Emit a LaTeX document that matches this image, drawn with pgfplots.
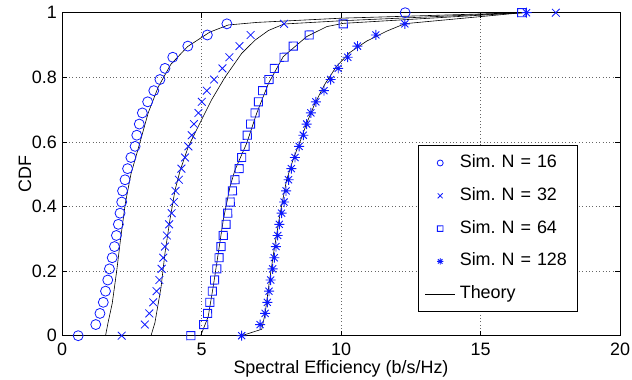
\documentclass[border=0pt]{standalone}
\usepackage{fontspec}
\setmainfont{Liberation Sans}
\usepackage{pgfplots}
\pgfplotsset{compat=1.18}
\usepackage{pgfplotstable}
\definecolor{mblue}{rgb}{0.05,0.1,1}
\pgfdeclareplotmark{mstar}{%
  \pgfpathmoveto{\pgfqpoint{0pt}{\pgfplotmarksize}}\pgfpathlineto{\pgfqpoint{0pt}{-\pgfplotmarksize}}%
  \pgfpathmoveto{\pgfqpoint{\pgfplotmarksize}{0pt}}\pgfpathlineto{\pgfqpoint{-\pgfplotmarksize}{0pt}}%
  \pgfpathmoveto{\pgfqpoint{0.707\pgfplotmarksize}{0.707\pgfplotmarksize}}\pgfpathlineto{\pgfqpoint{-0.707\pgfplotmarksize}{-0.707\pgfplotmarksize}}%
  \pgfpathmoveto{\pgfqpoint{0.707\pgfplotmarksize}{-0.707\pgfplotmarksize}}\pgfpathlineto{\pgfqpoint{-0.707\pgfplotmarksize}{0.707\pgfplotmarksize}}%
  \pgfusepathqstroke}
\pgfdeclareplotmark{msq}{%
  \pgfpathmoveto{\pgfqpoint{-\pgfplotmarksize}{-\pgfplotmarksize}}%
  \pgfpathlineto{\pgfqpoint{\pgfplotmarksize}{-0.98\pgfplotmarksize}}%
  \pgfpathlineto{\pgfqpoint{0.98\pgfplotmarksize}{\pgfplotmarksize}}%
  \pgfpathlineto{\pgfqpoint{-\pgfplotmarksize}{0.98\pgfplotmarksize}}%
  \pgfpathclose
  \pgfusepathqstroke}
\pgfplotsset{
  legmark/.style={legend image code/.code={\draw[##1, mark size=#1] plot coordinates {(15bp,0bp)};}},
  legline/.style={legend image code/.code={\draw[##1] (0bp,0bp) -- (30bp,0bp);}},
}

\pgfplotstableread{
cdf n16 n32 n64 n128
0.0000 0.58 2.14 4.62 6.44
0.0345 1.21 2.97 5.08 7.10
0.0690 1.36 3.13 5.22 7.28
0.1034 1.48 3.27 5.30 7.36
0.1379 1.56 3.39 5.39 7.42
0.1724 1.64 3.49 5.47 7.48
0.2069 1.70 3.57 5.55 7.55
0.2414 1.80 3.63 5.63 7.61
0.2759 1.88 3.69 5.70 7.67
0.3103 1.95 3.76 5.78 7.73
0.3448 2.02 3.84 5.88 7.79
0.3793 2.08 3.93 5.94 7.87
0.4138 2.14 4.01 6.03 7.96
0.4483 2.17 4.07 6.11 8.03
0.4828 2.26 4.19 6.20 8.12
0.5172 2.35 4.28 6.35 8.22
0.5517 2.47 4.41 6.44 8.35
0.5862 2.62 4.53 6.56 8.50
0.6207 2.68 4.65 6.64 8.65
0.6552 2.77 4.73 6.76 8.77
0.6897 2.88 4.89 6.92 8.92
0.7241 3.07 5.01 7.04 9.10
0.7586 3.29 5.19 7.19 9.39
0.7931 3.51 5.45 7.42 9.63
0.8276 3.69 5.75 7.61 9.90
0.8621 3.97 6.00 7.96 10.24
0.8966 4.51 6.36 8.29 10.59
0.9310 5.21 6.76 8.86 11.25
0.9655 5.91 7.96 10.08 12.29
1.0000 12.30 17.70 16.48 16.65
}\simdata

\begin{document}
\begin{tikzpicture}
\useasboundingbox (-62bp,-44.3bp) rectangle (570bp,335.7bp);
\begin{axis}[
  scale only axis, width=558bp, height=323bp,
  xmin=0, xmax=20, ymin=0, ymax=1,
  xtick={0,5,10,15,20}, ytick={0,0.2,0.4,0.6,0.8,1},
  grid=major,
  major grid style={black!60, line width=0.5bp, dash pattern=on 0.8bp off 2.6bp},
  tick align=inside, major tick length=5bp,
  tick style={black, line width=0.5bp},
  axis line style={black, line width=0.7bp},
  /pgf/number format/assume math mode=true,
  font=\fontsize{18}{21.6}\selectfont,
  ticklabel style={font=\fontsize{18}{21.6}\selectfont},
  xticklabel style={anchor=base, yshift=-19.3bp, inner sep=0pt},
  yticklabel style={anchor=east, xshift=-5bp, inner sep=0pt},
  xlabel={Spectral Efficiency (b/s/Hz)}, ylabel={CDF},
  every axis x label/.style={at={(axis description cs:0.5,-0.117)}, anchor=base},
  every axis y label/.style={at={(axis description cs:-0.0663,0.5)}, anchor=center, rotate=90},
  clip=false,
  legend cell align=left,
  legend style={at={(0.925,0.590)}, anchor=north east, draw=black, line width=0.7bp,
    fill=white, font=\fontsize{18}{21.6}\selectfont, inner xsep=7bp, inner ysep=9bp,
    row sep=15.8bp,
    nodes={inner sep=0pt, text height=13bp, text depth=4bp},
    /tikz/every odd column/.append style={column sep=4.3bp},
    /tikz/every even column/.append style={text width=111bp}},
]
\addplot[only marks, mark=o, mblue, mark size=5bp, line width=0.8bp, legmark=3bp]
  table[x=n16, y=cdf] {\simdata};
\addlegendentry{Sim.\ N = 16}
\addplot[only marks, mark=x, mblue, mark size=5.5bp, line width=0.8bp, legmark=3.5bp]
  table[x=n32, y=cdf] {\simdata};
\addlegendentry{Sim.\ N = 32}
\addplot[only marks, mark=msq, mblue, mark size=4.1bp, line width=0.9bp, legmark=2.8bp]
  table[x=n64, y=cdf] {\simdata};
\addlegendentry{Sim.\ N = 64}
\addplot[only marks, mark=mstar, mblue, mark size=5bp, line width=0.9bp, legmark=3.2bp]
  table[x=n128, y=cdf] {\simdata};
\addlegendentry{Sim.\ N = 128}
\addplot[black, line width=0.6bp, mark=none, legline]
  coordinates {(1.56,0) (1.65,0.04) (1.80,0.10) (1.96,0.20) (2.10,0.30) (2.27,0.41) (2.47,0.50) (2.80,0.60) (3.09,0.69) (3.45,0.77) (3.90,0.84) (4.50,0.895) (5.30,0.94) (5.96,0.962) (7.0,0.970) (10.0,0.983) (16.5,1.0)};
\addlegendentry{Theory}
\addplot[black, line width=0.6bp, mark=none, forget plot]
  coordinates {(3.19,0) (3.33,0.04) (3.55,0.15) (3.69,0.255) (3.87,0.36) (4.05,0.45) (4.23,0.51) (4.53,0.586) (5.0,0.668) (5.36,0.73) (5.84,0.80) (6.44,0.874) (6.92,0.915) (7.4,0.945) (7.96,0.965) (10,0.975) (16.5,1)};
\addplot[black, line width=0.6bp, mark=none, forget plot]
  coordinates {(4.97,0) (5.24,0.059) (5.42,0.152) (5.60,0.255) (5.78,0.358) (6.02,0.461) (6.20,0.513) (6.62,0.596) (6.98,0.689) (7.40,0.781) (7.93,0.864) (8.77,0.926) (9.49,0.957) (10.08,0.967) (16.5,1)};
\addplot[black, line width=0.6bp, mark=none, forget plot]
  coordinates {(6.44,0) (7.16,0.02) (7.28,0.069) (7.44,0.172) (7.62,0.276) (7.82,0.379) (8.05,0.482) (8.30,0.55) (8.53,0.60) (8.77,0.658) (9.07,0.72) (9.43,0.78) (9.85,0.835) (10.32,0.877) (10.92,0.912) (11.64,0.943) (12.29,0.966) (16.5,1)};
\end{axis}
\end{tikzpicture}
\end{document}
